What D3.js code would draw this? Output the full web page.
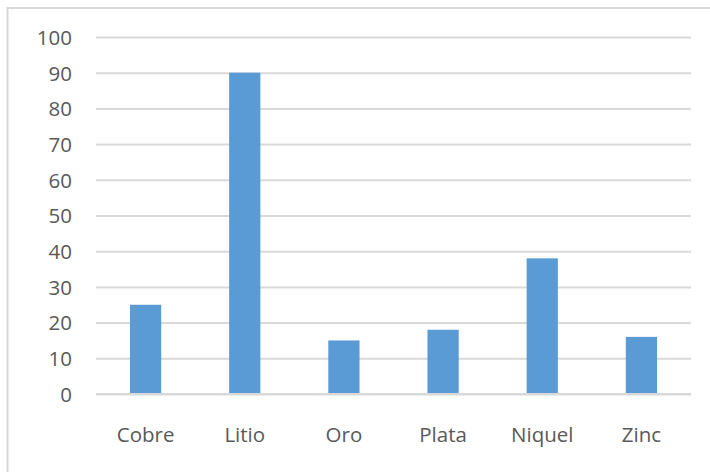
<meta charset="utf-8"/>
<html>
<head>
<script src="https://d3js.org/d3.v7.min.js"></script>
<style>
  * { margin: 0; padding: 0; }
  body { background: #fff; overflow: hidden; }
  text { font-family: "Open Sans", "Noto Sans", sans-serif; fill: #595959; }
</style>
</head>
<body>
<div id="chart"></div>
<script>
// values
var categories = ["Cobre", "Litio", "Oro", "Plata", "Niquel", "Zinc"];
var values = [25, 90, 15, 18, 38, 16];
var yTicks = [0, 10, 20, 30, 40, 50, 60, 70, 80, 90, 100];

var W = 710, H = 472;
var plot = {left: 96, right: 691, top: 37, bottom: 394};

var svg = d3.select("#chart").append("svg")
    .attr("width", W)
    .attr("height", H);

// chart area border (runs off the right/bottom edge like the screenshot)
svg.append("rect")
    .attr("x", 7.5).attr("y", 8)
    .attr("width", 740).attr("height", 500)
    .attr("fill", "none")
    .attr("stroke", "#d9d9d9")
    .attr("stroke-width", 2);

var x = d3.scaleBand()
    .domain(categories)
    .range([plot.left, plot.right])
    .padding(0);

var y = d3.scaleLinear()
    .domain([0, 100])
    .range([plot.bottom, plot.top]);

// gridlines + y labels
var yAxis = d3.axisLeft(y)
    .tickValues(yTicks)
    .tickSize(-(plot.right - plot.left))
    .tickPadding(24);

var gy = svg.append("g")
    .attr("transform", "translate(" + plot.left + ",0)")
    .call(yAxis);
gy.select(".domain").remove();
gy.selectAll(".tick line")
    .attr("stroke", "#d9d9d9")
    .attr("stroke-width", 2);
gy.selectAll(".tick text")
    .attr("font-size", 20.5)
    .attr("dy", "0.36em");

// bars
var barW = x.bandwidth() * 0.315;
svg.append("g").selectAll("rect")
    .data(values)
    .join("rect")
    .attr("x", function (d, i) { return x(categories[i]) + x.bandwidth() / 2 - barW / 2; })
    .attr("y", function (d) { return y(d); })
    .attr("width", barW)
    .attr("height", function (d) { return y(0) - y(d); })
    .attr("fill", "#5b9bd5");

// x labels
var xAxis = d3.axisBottom(x).tickSize(0).tickPadding(33);
var gx = svg.append("g")
    .attr("transform", "translate(0," + plot.bottom + ")")
    .call(xAxis);
gx.select(".domain").remove();
gx.selectAll(".tick text")
    .attr("font-size", 20.5);

// zero line on top
svg.append("line")
    .attr("x1", plot.left).attr("x2", plot.right)
    .attr("y1", y(0)).attr("y2", y(0))
    .attr("stroke", "#d9d9d9")
    .attr("stroke-width", 2);
</script>
</body>
</html>
